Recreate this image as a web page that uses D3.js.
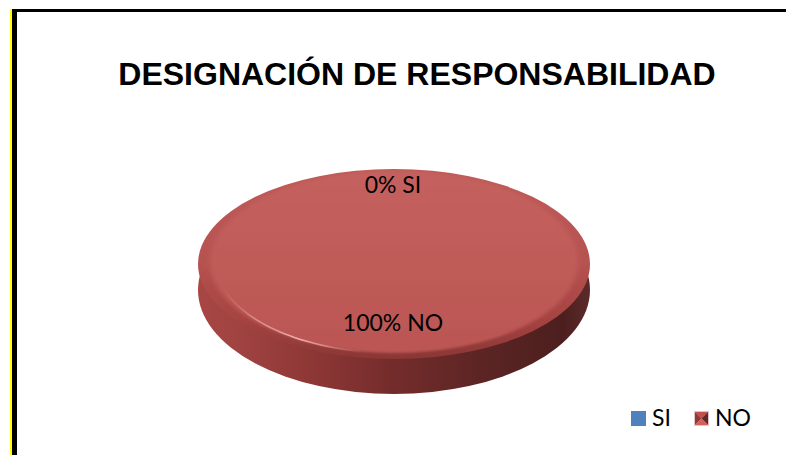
<!DOCTYPE html>
<html>
<head>
<meta charset="utf-8">
<script src="https://cdn.jsdelivr.net/npm/d3@7"></script>
<style>
  html, body { margin: 0; padding: 0; background: #fff; }
  svg { display: block; }
</style>
</head>
<body>
<svg id="chart" width="786" height="455"></svg>
<script>
const titleText = "DESIGNACIÓN DE RESPONSABILIDAD";
const categories = ["SI", "NO"];
const seriesValues = [0, 100];
const sliceLabels = ["0% SI", "100% NO"];

const svg = d3.select("#chart");
const defs = svg.append("defs");

function linearGradient(id, stops, attrs) {
  const el = defs.append("linearGradient").attr("id", id);
  Object.entries(attrs).forEach(([k, v]) => el.attr(k, v));
  stops.forEach(([o, c, a]) => {
    const s = el.append("stop").attr("offset", o).attr("stop-color", c);
    if (a !== undefined) s.attr("stop-opacity", a);
  });
}

function blurFilter(id, amount) {
  defs.append("filter").attr("id", id)
    .attr("x", "-5%").attr("y", "-5%").attr("width", "110%").attr("height", "110%")
    .append("feGaussianBlur").attr("stdDeviation", amount);
}

linearGradient("faceFill",
  [[0, "#c4615e"], [0.5, "#c05c59"], [1, "#ba5653"]],
  { x1: 0, y1: 0, x2: 0, y2: 1 });
linearGradient("wallFill",
  [[0, "#a84644"], [0.1, "#a04341"], [0.3, "#8c3735"], [0.5, "#732c2b"], [0.72, "#5c2524"], [0.93, "#4c1f1e"], [1, "#5a2b2a"]],
  { x1: 0, y1: 0, x2: 1, y2: 0 });
linearGradient("rimFill",
  [[0, "#c05c59"], [0.5, "#b55250"], [0.8, "#a54341"], [1, "#8a3735"]],
  { x1: 0, y1: 0, x2: 0, y2: 1 });
linearGradient("glint",
  [[0, "#e8a29b", 0], [0.25, "#e8a29b", 0.7], [0.55, "#efb0a8", 1], [1, "#e8a29b", 0]],
  { x1: 0, y1: 0, x2: 1, y2: 0 });

blurFilter("softFace", 2.5);
blurFilter("softRim", 0.3);
blurFilter("softGlint", 0.7);

// Frame: yellow rule on the far left, then the black borders
svg.append("rect").attr("x", 10).attr("y", 9).attr("width", 2).attr("height", 446).attr("fill", "#ffff00");
svg.append("rect").attr("x", 12).attr("y", 9).attr("width", 5).attr("height", 446).attr("fill", "#000");
svg.append("rect").attr("x", 12).attr("y", 9).attr("width", 774).attr("height", 3).attr("fill", "#000");

svg.append("text")
  .attr("x", 417).attr("y", 85)
  .attr("text-anchor", "middle")
  .attr("font-family", "Liberation Sans, Arial, sans-serif")
  .attr("font-weight", "bold")
  .attr("font-size", 32)
  .attr("fill", "#000")
  .text(titleText);

// Slice geometry comes from the pie layout; each layer of the disc is the
// same arc, flattened and shifted to build up wall, bevel and top face
const pie = d3.pie().sort(null).startAngle(0).endAngle(2 * Math.PI);
const visible = pie(seriesValues).filter(d => d.value > 0);
const cx = 394;

const layers = [
  { name: "wall", cy: 290, rx: 196, ry: 104, fill: "url(#wallFill)" },
  { name: "rim", cy: 264, rx: 196, ry: 95, fill: "url(#rimFill)", filter: "url(#softRim)" },
  { name: "face", cy: 262, rx: 184, ry: 91, fill: "url(#faceFill)", filter: "url(#softFace)" }
];

layers.forEach(l => {
  const g = svg.append("g")
    .attr("class", l.name)
    .attr("transform", `translate(${cx},${l.cy}) scale(1,${l.ry / l.rx})`);
  const arc = d3.arc().innerRadius(0).outerRadius(l.rx);
  g.selectAll("path").data(visible).join("path")
    .attr("d", arc)
    .attr("fill", l.fill)
    .attr("filter", l.filter || null);
});

// Light catching the lower left edge of the bevel
const glintAngles = d3.range(100, 166, 2).map(a => a * Math.PI / 180);
const glintLine = d3.line()
  .x(a => cx + 178 * Math.cos(a))
  .y(a => 262 + 91 * Math.sin(a));
svg.append("path")
  .datum(glintAngles)
  .attr("d", glintLine)
  .attr("fill", "none")
  .attr("stroke", "url(#glint)")
  .attr("stroke-width", 1.6)
  .attr("filter", "url(#softGlint)");

// Slice labels
const labelY = [193, 331];
svg.selectAll("text.slice").data(sliceLabels).join("text")
  .attr("class", "slice")
  .attr("x", cx - 1)
  .attr("y", (d, i) => labelY[i])
  .attr("text-anchor", "middle")
  .attr("font-family", "Lato, sans-serif")
  .attr("font-size", 23)
  .attr("fill", "#000")
  .text(d => d);

// Legend
const legendX = d3.scalePoint().domain(categories).range([631, 694]);
const keySize = 15, keyTop = 411;
const legend = svg.selectAll("g.key").data(categories).join("g")
  .attr("class", "key")
  .attr("transform", d => `translate(${legendX(d)},${keyTop})`);

legend.filter(d => d === "SI").append("rect")
  .attr("width", keySize).attr("height", keySize).attr("fill", "#4f81bd");

const noKey = legend.filter(d => d === "NO");
noKey.append("rect").attr("width", keySize).attr("height", keySize).attr("fill", "#e3c4c2");
const m = 1, e = keySize - 1, mid = keySize / 2;
[
  [[m, m], [e, m], [mid, mid], "#c0504d"],
  [[m, m], [mid, mid], [m, e], "#8e3b39"],
  [[e, m], [e, e], [mid, mid], "#5e2928"],
  [[m, e], [mid, mid], [e, e], "#d4605b"]
].forEach(([a, b, c, fill]) => {
  noKey.append("path").attr("d", d3.line()([a, b, c]) + "Z").attr("fill", fill);
});

legend.append("text")
  .attr("x", keySize + 6)
  .attr("y", keySize)
  .attr("font-family", "Lato, sans-serif")
  .attr("font-size", 23)
  .attr("fill", "#000")
  .text(d => d);
</script>
</body>
</html>
